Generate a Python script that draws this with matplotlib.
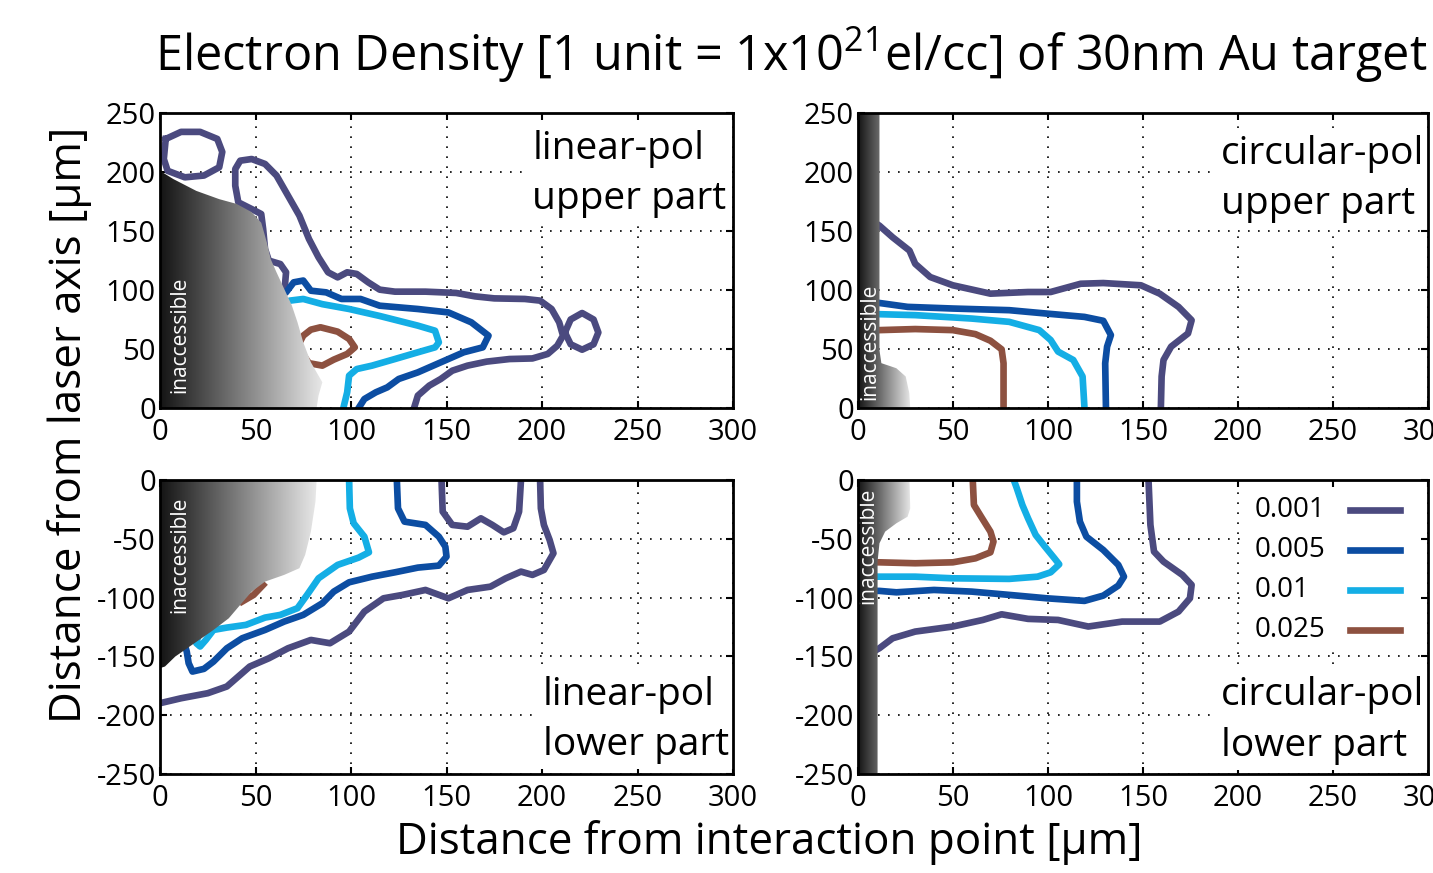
import numpy as np
import matplotlib.pyplot as plt
from matplotlib.patches import Polygon, Rectangle
from matplotlib.colors import LinearSegmentedColormap

plt.rcParams['font.family'] = ['Open Sans', 'DejaVu Sans']
plt.rcParams['mathtext.fontset'] = 'custom'
plt.rcParams['mathtext.rm'] = 'Open Sans'
plt.rcParams['mathtext.it'] = 'Open Sans:italic'
plt.rcParams['mathtext.bf'] = 'Open Sans:bold'
plt.rcParams['axes.unicode_minus'] = False

# contour levels (1 unit = 1e21 el/cc) and their colours
levels = ['0.001', '0.005', '0.01', '0.025']
colors = ['#4b4a7f', '#0c4da2', '#14aee5', '#8d5140']

x_ticks = [0, 50, 100, 150, 200, 250, 300]
y_ticks_up = [0, 50, 100, 150, 200, 250]
y_ticks_low = [0, -50, -100, -150, -200, -250]

# ---- linear-pol, upper part: (distance from interaction point, distance from laser axis) [um]
lin_up = {
    '0.001': [
        [(3, 228), (11, 234), (21, 234), (30, 228), (32.6, 217), (31, 204), (23, 197),
         (13, 195.5), (4, 201), (2, 211), (3, 228)],
        [(133, 0), (135, 10.5), (141, 19), (147, 24.6), (153, 31.6), (161, 35.9), (171, 39.3),
         (183, 41.5), (195, 42), (203, 45.8), (208, 52.8), (211, 61.3), (209, 72.6), (205, 83.9),
         (199, 91), (191, 92.4), (175, 92.9), (165, 94.6), (155, 97.5), (139, 98.6), (123, 98.6),
         (115, 100.3), (109, 106.5), (103, 113.6), (98, 115), (93, 110.7), (88, 115), (83, 127.7),
         (78, 143.2), (73, 163), (67, 180), (61, 197), (55, 206.8), (48, 211), (42, 209.6),
         (39.4, 202.5), (39.4, 188.4), (41, 174.3), (48, 168.6), (53, 164.4), (54, 151.7),
         (55, 134.7), (57, 124.9), (63, 122), (66, 115), (65.4, 103.7), (63, 100)],
        [(212, 64), (215, 75), (221, 80.5), (227, 75), (229.5, 64), (227, 54), (221, 49.4),
         (215, 54), (212, 64)],
    ],
    '0.005': [
        [(64, 96), (66, 98), (70, 106.5), (75, 108), (79, 99.4), (87, 98), (95, 92.4), (105, 92.4),
         (115, 86.7), (135, 83.9), (151, 81), (163, 72.6), (172, 61.3), (169, 51.4), (159, 47.2),
         (147, 38.7), (135, 30.2), (125, 24.6), (119, 17.5), (113, 13.3), (107, 7.6), (104, 0)],
    ],
    '0.01': [
        [(66, 89), (68, 91), (75, 92.4), (85, 88), (99, 83.9), (115, 78), (135, 69.8), (144, 65.5),
         (146, 55.6), (144, 51.4), (135, 47.2), (123, 41.5), (111, 35.9), (103, 33), (99, 27.4),
         (98, 13.3), (96, 0)],
    ],
    '0.025': [
        [(72, 52), (75, 61.3), (79, 66.4), (84, 68.4), (93, 64.7), (99, 58.5), (102, 51.4),
         (98, 45.8), (91, 41), (85, 35.9), (78, 38), (72, 52)],
    ],
}
lin_up_region = [(0, 201), (7, 194), (19, 184), (31, 177), (40, 173), (48, 166), (53, 157),
                 (56, 140), (58, 126), (61, 115), (65, 101), (69, 87), (72, 72.6), (75, 55.6),
                 (79, 38.7), (83, 27.4), (85, 21.8), (83, 10.5), (82, 0), (0, 0)]

# ---- circular-pol, upper part
circ_up = {
    '0.001': [
        [(8, 158), (11.3, 154.5), (18.2, 144.7), (27.1, 133.4), (30.1, 122.2), (38, 111),
         (49.9, 104), (69.7, 96.9), (89.5, 98.3), (101.4, 98.3), (117.2, 105.3), (129.1, 105.9),
         (148.9, 104), (158.8, 96.9), (168.7, 85.7), (175.6, 74.4), (173.7, 63.2), (164.8, 52),
         (160.8, 40.7), (159.8, 26.7), (159.4, 0)],
    ],
    '0.005': [
        [(8, 89.5), (11.3, 89), (26.1, 85.7), (49.9, 84.3), (79.6, 82.9), (99.4, 80), (119.2, 77.2),
         (129.1, 73.9), (133.1, 61.8), (131.1, 52), (130.1, 37.9), (130.5, 0)],
    ],
    '0.01': [
        [(8, 79.5), (11.3, 79.5), (30.1, 78.7), (59.8, 75.8), (79.6, 73), (95.4, 66), (101.4, 57.6),
         (105.3, 47.8), (113.3, 40.7), (118.2, 26.7), (119.2, 0)],
    ],
    '0.025': [
        [(8, 66), (11.3, 66), (30.1, 66.9), (49.9, 66), (61.8, 62.6), (69.7, 57), (75.6, 49.7),
         (76.6, 37.9), (76.6, 0)],
    ],
}
circ_up_region = [(0, 250), (11.3, 250), (11.3, 49), (12.3, 38), (20.2, 33.7), (25.1, 26.7),
                  (27, 12.6), (27.5, 0), (0, 0)]

# ---- linear-pol, lower part
lin_low = {
    '0.001': [
        [(0, -189.8), (11, -185.6), (25, -181.3), (35, -175.6), (47, -158.6), (57, -151.6),
         (67, -143.1), (79, -136), (89, -138.8), (99, -128.9), (107, -111.9), (117, -100.6),
         (127, -97.7), (139, -93.5), (151, -100.6), (161, -93.5), (173, -90.7), (181, -83.6),
         (189, -77.9), (195, -80.7), (201, -76.5), (206, -62.3), (204, -51), (201, -38.2),
         (199.4, -24.1), (199, 0)],
        [(147.4, 0), (148, -26.9), (153, -38.2), (161, -39.7), (168, -32.6), (174, -38.2),
         (180, -44.5), (185, -41), (188, -26.9), (189, 0)],
    ],
    '0.005': [
        [(124, 0), (124.6, -24.1), (128, -35.4), (139, -38.2), (146, -48.2), (149.4, -56.7),
         (150, -65.2), (146, -72.8), (135, -74.5), (123, -78.5), (111, -82.2), (99, -87),
         (91, -94.9), (85, -104.8), (75, -114.7), (65, -120.4), (55, -127.5), (43, -134.6),
         (35, -143.1), (28, -154.4), (23, -160.6), (17, -162.9), (15, -155.8), (14, -145.9),
         (13, -140.2)],
    ],
    '0.01': [
        [(99, 0), (99.4, -24.1), (101.4, -36.8), (107, -48.2), (109.4, -61.5), (104, -66),
         (93, -72.2), (83, -83.6), (77, -97.7), (72, -109), (63, -114.7), (55, -117), (45, -123.2),
         (35, -125.5), (28, -127.5), (24, -136), (21, -141.6), (19, -138.8), (20, -133)],
    ],
    '0.025': [
        [(43, -103.4), (49, -97.7), (54, -89.2)],
    ],
}
lin_low_region = [(0, 0), (82, 0), (81.4, -18.4), (79, -43.9), (76, -63.7), (73, -75), (65, -80.7),
                  (55, -86.4), (48, -94.9), (42, -106.2), (36, -117.6), (28, -127.5), (18, -138.8),
                  (8, -150.1), (2.6, -158.6), (0, -160)]

# ---- circular-pol, lower part
circ_low = {
    '0.001': [
        [(8, -146), (11.3, -143), (18.2, -134.6), (30.1, -128.9), (49.9, -124.6), (65.7, -119),
         (75.6, -114.2), (89.5, -118.1), (105.3, -119), (121.2, -124.6), (139, -120.4),
         (158.8, -120.4), (168.7, -111.9), (174.7, -100.6), (175.6, -89.2), (170.7, -80.7),
         (160.8, -69.4), (155.8, -60.9), (153.9, -38.2), (152.9, 0)],
    ],
    '0.005': [
        [(8, -94.3), (11.3, -94.3), (20.2, -95.5), (40, -93.5), (59.8, -94.9), (79.6, -97.7),
         (99.4, -100.6), (119.2, -102.8), (129.1, -98.3), (137, -89.8), (140, -82.2), (137, -72.2),
         (129.1, -59.5), (120.2, -48.2), (116.8, -35.4), (115.2, -18.4), (115.2, 0)],
    ],
    '0.01': [
        [(8, -82.2), (11.3, -82.2), (30.1, -82.2), (49.9, -83.6), (79.6, -84.1), (94.5, -82.2),
         (101.4, -78.5), (105.9, -71.7), (103.4, -66.6), (98.4, -56.7), (93.5, -46.7),
         (89.5, -32.6), (86.5, -21.2), (83.6, -7.1), (82, 0)],
    ],
    '0.025': [
        [(8, -70), (11.3, -70), (30.1, -70.8), (49.9, -70), (61.8, -66.6), (69.7, -61.5),
         (71.3, -52.4), (69.7, -43.9), (64.8, -31.2), (61, -21.2), (60.4, 0)],
    ],
}
circ_low_region = [(0, 0), (27.1, 0), (27.5, -24.1), (26.1, -31.2), (20.2, -36.8), (14.3, -43.9),
                   (11.3, -53.8), (10.3, -69.4), (10.3, -250), (0, -250)]

gray_cmap = LinearSegmentedColormap.from_list('shade', ['#141414', '#e8e8e8'])

W, H = 1433, 873
fig = plt.figure(figsize=(W / 100, H / 100), dpi=100)


def px_axes(left, top, right, bottom):
    return fig.add_axes([left / W, 1 - bottom / H, (right - left) / W, (bottom - top) / H])


def draw_panel(ax, contours, region, label, label_xy, inacc_xy, ylim, yticks):
    ax.set_xlim(0, 300)
    ax.set_ylim(*ylim)
    for lev, col in zip(levels, colors):
        for seg in contours.get(lev, []):
            xs, ys = zip(*seg)
            ax.plot(xs, ys, color=col, lw=4.8, zorder=2, solid_joinstyle='round', label=lev)
    poly = Polygon(region, closed=True, facecolor='none', edgecolor='none')
    ax.add_patch(poly)
    xmax = max(p[0] for p in region)
    grad = np.linspace(0, 1, 256).reshape(1, -1)
    im = ax.imshow(grad, extent=[0, xmax, min(ylim), max(ylim)], aspect='auto',
                   cmap=gray_cmap, origin='lower', zorder=3, interpolation='bilinear')
    im.set_clip_path(poly)
    ax.set_xlim(0, 300)
    ax.set_ylim(*ylim)
    ax.text(inacc_xy[0], inacc_xy[1], 'inaccessible', rotation=90, color='white',
            fontsize=15, ha='center', va='center', zorder=4)
    ax.text(label_xy[0], label_xy[1], label, fontsize=28, ha='left', va='center',
            linespacing=1.42, zorder=4,
            bbox=dict(facecolor='white', edgecolor='none', pad=4))
    ax.set_xticks(x_ticks)
    ax.set_yticks(yticks)
    ax.grid(True, color='black', ls=(0, (1, 5)), lw=1.2)
    ax.set_axisbelow(True)
    ax.tick_params(direction='in', top=True, right=True, length=5, width=1.5,
                   labelsize=21)
    ax.tick_params(axis='x', pad=7)
    ax.tick_params(axis='y', pad=3)
    for sp in ax.spines.values():
        sp.set_linewidth(2)
        sp.set_zorder(6)


ax1 = px_axes(160, 113, 733, 408)
ax2 = px_axes(858, 113, 1428, 408)
ax3 = px_axes(160, 480, 733, 774)
ax4 = px_axes(858, 480, 1428, 774)

draw_panel(ax1, lin_up, lin_up_region, 'linear-pol\nupper part', (195, 198), (10.5, 62),
           (0, 250), y_ticks_up)
draw_panel(ax2, circ_up, circ_up_region, 'circular-pol\nupper part', (191, 194), (6.3, 56),
           (0, 250), y_ticks_up)
draw_panel(ax3, lin_low, lin_low_region, 'linear-pol\nlower part', (200.5, -204), (10.5, -63.5),
           (-250, 0), y_ticks_low)
draw_panel(ax4, circ_low, circ_low_region, 'circular-pol\nlower part', (191, -204.5), (5.3, -56),
           (-250, 0), y_ticks_low)

# legend (drawn by hand so that labels sit left-aligned with lines on the right)
ax4.add_patch(Rectangle((0.672, 0.43), 0.314, 0.545, transform=ax4.transAxes,
                        facecolor='white', edgecolor='none', zorder=4))
row_y = [0.898, 0.762, 0.626, 0.490]
for lev, col, ry in zip(levels, colors, row_y):
    ax4.text(0.6965, ry, lev, transform=ax4.transAxes, fontsize=20, ha='left', va='center',
             zorder=5)
    ax4.plot([0.863, 0.951], [ry, ry], transform=ax4.transAxes, color=col, lw=4.8, zorder=5,
             clip_on=False)

fig.text(791 / W, 1 - 55 / H, 'Electron Density [1 unit = 1x10$^{21}$el/cc] of 30nm Au target',
         fontsize=35, ha='center', va='center')
fig.text(769 / W, 1 - 843 / H, 'Distance from interaction point [µm]', fontsize=31.6,
         ha='center', va='center')
fig.text(70 / W, 1 - 425 / H, 'Distance from laser axis [µm]', fontsize=31.6, rotation=90,
         ha='center', va='center')

fig.savefig('out.png', dpi=100)
